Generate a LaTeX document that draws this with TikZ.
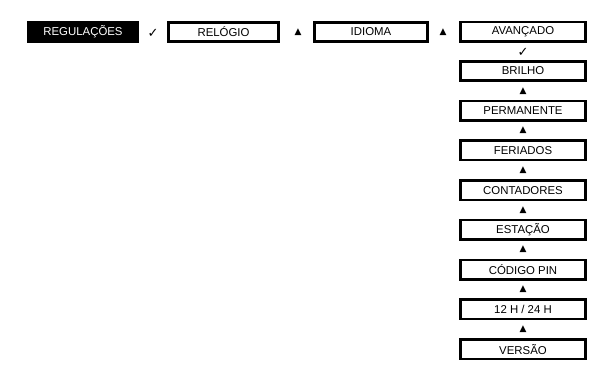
\documentclass[tikz,border=0pt]{standalone}
\usepackage{fontspec}
\setmainfont{Liberation Sans}
\newfontfamily\symfont{DejaVu Sans}
\begin{document}
\begin{tikzpicture}[x=1pt,y=-1pt,
  menubox/.style={draw=black,line width=2.6pt,fill=white,inner sep=0pt,
    minimum height=19.4pt,font=\fontsize{11.4}{13}\selectfont},
  topbox/.style={menubox,minimum width=#1},
  activebox/.style={fill=black,text=white,inner sep=0pt,minimum height=22pt,
    minimum width=112pt,font=\fontsize{11.4}{13}\selectfont},
  vbox/.style={menubox,minimum width=125.4pt},
  sym/.style={inner sep=0pt,font=\symfont\fontsize{9}{10}\selectfont},
  chk/.style={inner sep=0pt,font=\symfont\bfseries\fontsize{13}{14}\selectfont}]
\useasboundingbox (0,0) rectangle (614,375);
% top row
\node[activebox] (reg) at (83,32) {REGULAÇÕES};
\node[chk] (c1) at (153,33) {✓};
\node[topbox=110.4pt] (rel) at (223.5,32) {RELÓGIO};
\node[sym] (t1) at (298,32) {▲};
\node[topbox=113.4pt] (idi) at (371,32) {IDIOMA};
\node[sym] (t2) at (443,32) {▲};
\node[topbox=125.4pt] (ava) at (523,31.5) {AVANÇADO};
% vertical column
\node[chk] (c2) at (523,52.5) {✓};
\node[vbox] (b1) at (523,71) {BRILHO};
\node[sym] (t3) at (523,90.8) {▲};
\node[vbox] (b2) at (523,110.7) {PERMANENTE};
\node[sym] (t4) at (523,130.5) {▲};
\node[vbox] (b3) at (523,150.4) {FERIADOS};
\node[sym] (t5) at (523,170.2) {▲};
\node[vbox] (b4) at (523,190.1) {CONTADORES};
\node[sym] (t6) at (523,209.9) {▲};
\node[vbox] (b5) at (523,229.8) {ESTAÇÃO};
\node[sym] (t7) at (523,249.6) {▲};
\node[vbox] (b6) at (523,269.5) {CÓDIGO PIN};
\node[sym] (t8) at (523,289.4) {▲};
\node[vbox] (b7) at (523,309.3) {12 H / 24 H};
\node[sym] (t9) at (523,329.2) {▲};
\node[vbox] (b8) at (523,349.3) {VERSÃO};
\end{tikzpicture}
\end{document}
